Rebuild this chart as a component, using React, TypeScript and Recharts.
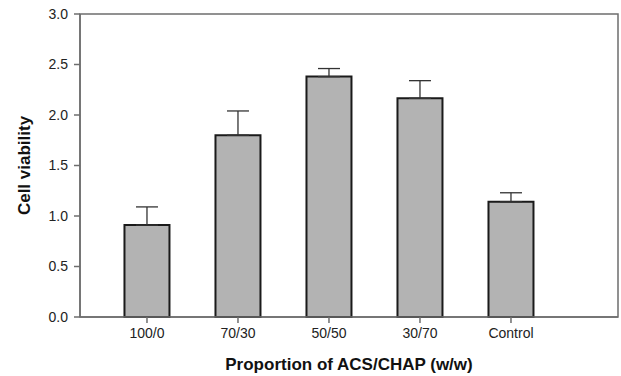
import React from "react";
import { ComposedChart, Bar, XAxis, YAxis, ErrorBar, Label, ReferenceArea } from "recharts";

const categories = ["100/0", "70/30", "50/50", "30/70", "Control"];
const viability = [0.91, 1.8, 2.38, 2.165, 1.14];
const errorUp = [0.18, 0.24, 0.08, 0.175, 0.09];
const yTicks = [0, 0.5, 1.0, 1.5, 2.0, 2.5, 3.0];
const xDomain = [0.264, 6.176];

const data = categories.map((c, i) => ({
  pos: i + 1,
  name: c,
  value: viability[i],
  err: [0, errorUp[i]],
}));
const xTicks = data.map((d) => d.pos);

const AX = "#6e6e6e";
const FONT = "Liberation Sans, Arial, sans-serif";

export default function App() {
  return (
    <div style={{ position: "absolute", left: 0, top: 0, width: 621, height: 376, background: "#fff" }}>
      <ComposedChart
        width={621}
        height={376}
        data={data}
        margin={{ top: 14, right: 3, left: 0, bottom: 0 }}
        style={{ fontFamily: FONT }}
      >
        <ReferenceArea
          x1={xDomain[0]}
          x2={xDomain[1]}
          y1={0}
          y2={3}
          fill="none"
          fillOpacity={0}
          stroke={AX}
          strokeWidth={1.5}
          ifOverflow="visible"
        />
        <XAxis
          dataKey="pos"
          type="number"
          domain={xDomain}
          ticks={xTicks}
          interval={0}
          allowDataOverflow
          tickFormatter={(v: number) => categories[v - 1] ?? ""}
          height={59}
          stroke={AX}
          strokeWidth={1.5}
          tickSize={6}
          tickMargin={5}
          tick={{ fill: "#222", fontSize: 14, fontFamily: FONT }}
        >
          <Label
            value="Proportion of ACS/CHAP (w/w)"
            position="insideBottom"
            offset={6}
            style={{ fontWeight: "bold", fontSize: 17, fill: "#111", fontFamily: FONT }}
          />
        </XAxis>
        <YAxis
          domain={[0, 3]}
          ticks={yTicks}
          tickFormatter={(v: number) => v.toFixed(1)}
          width={80}
          interval={0}
          stroke={AX}
          strokeWidth={1.5}
          tickSize={6}
          tickMargin={6}
          tick={{ fill: "#222", fontSize: 14, fontFamily: FONT }}
        >
          <Label
            value="Cell viability"
            angle={-90}
            position="insideLeft"
            offset={24}
            style={{ fontWeight: "bold", fontSize: 17, fill: "#111", fontFamily: FONT, textAnchor: "middle" }}
          />
        </YAxis>
        <Bar dataKey="value" fill="#b3b3b3" stroke="#1a1a1a" strokeWidth={2} barSize={45} isAnimationActive={false}>
          <ErrorBar dataKey="err" width={11} stroke="#333" strokeWidth={1.3} direction="y" />
        </Bar>
      </ComposedChart>
    </div>
  );
}
